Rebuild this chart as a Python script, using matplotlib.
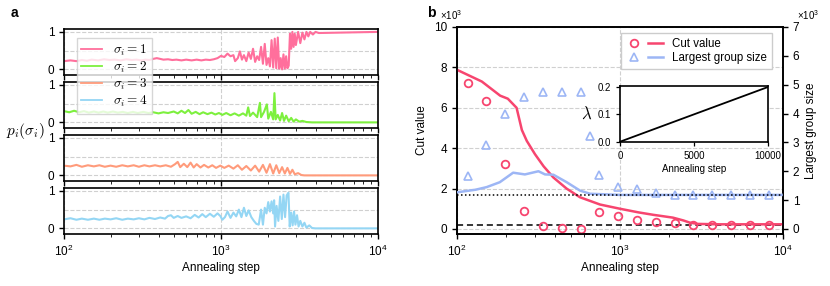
import numpy as np
import matplotlib
matplotlib.use("Agg")
import matplotlib.pyplot as plt
from matplotlib.ticker import FixedLocator, NullFormatter
from matplotlib.lines import Line2D
from matplotlib.legend_handler import HandlerTuple

plt.rcParams['font.family'] = ['Liberation Sans', 'DejaVu Sans']
plt.rcParams['mathtext.fontset'] = 'cm'

# ---------------- data: panel a ----------------
s1_steps = [100, 110, 120, 130, 140, 150, 165, 180, 195, 210,
            230, 250, 270, 290, 310, 330, 350, 370, 390, 410,
            430, 460, 490, 520, 560, 600, 650, 700, 750, 800,
            850, 900, 950, 1000, 1050, 1100, 1150, 1200, 1230, 1280,
            1320, 1360, 1400, 1450, 1500, 1550, 1600, 1650, 1700, 1750,
            1800, 1850, 1900, 1950, 2000, 2050, 2100, 2150, 2200, 2250,
            2300, 2350, 2400, 2450, 2500, 2550, 2600, 2650, 2700, 2750,
            2800, 2850, 2900, 2950, 3000, 3100, 3200, 3300, 3400, 3500,
            3600, 3700, 3850, 4000, 4200, 10000]
s1_vals = [0.22, 0.24, 0.22, 0.25, 0.23, 0.26, 0.24, 0.27, 0.25, 0.26,
           0.24, 0.27, 0.25, 0.26, 0.24, 0.26, 0.25, 0.28, 0.30, 0.28,
           0.26, 0.27, 0.25, 0.26, 0.24, 0.26, 0.24, 0.26, 0.24, 0.26,
           0.25, 0.27, 0.30, 0.36, 0.33, 0.42, 0.35, 0.38, 0.22, 0.30,
           0.48, 0.26, 0.38, 0.22, 0.45, 0.28, 0.55, 0.20, 0.35, 0.25,
           0.60, 0.15, 0.68, 0.12, 0.30, 0.08, 0.78, 0.05, 0.82, 0.03,
           0.85, 0.02, 0.30, 0.00, 0.40, 0.02, 0.35, 0.03, 0.10, 0.95,
           0.55, 1.00, 0.60, 0.95, 0.65, 1.00, 0.70, 0.98, 0.80, 1.00,
           0.88, 1.00, 0.93, 1.00, 0.97, 1.00]

s2_steps = [100, 108, 116, 125, 134, 144, 155, 166, 178, 190, 205, 220, 237, 255, 275, 295, 320, 345, 370, 400,
            430, 460, 500, 530, 560, 590, 620, 650, 690, 730, 770, 820, 870, 920, 970, 1020, 1080, 1150, 1220,
            1300, 1380, 1450, 1490, 1530, 1600, 1700, 1770, 1800, 1880, 1960, 2000, 2080, 2150, 2190, 2230, 2300,
            2380, 2450, 2520, 2600, 2700, 2800, 2900, 3000, 3150, 3300, 3500, 3800, 10000]
s2_vals = [0.30, 0.27, 0.31, 0.27, 0.30, 0.26, 0.29, 0.26, 0.29, 0.26, 0.29, 0.26, 0.28, 0.25, 0.28, 0.25, 0.28,
           0.25, 0.27, 0.24, 0.27, 0.25, 0.29, 0.24, 0.31, 0.25, 0.33, 0.23, 0.28, 0.22, 0.27, 0.22, 0.26, 0.21,
           0.25, 0.20, 0.25, 0.19, 0.24, 0.18, 0.24, 0.18, 0.40, 0.17, 0.26, 0.14, 0.52, 0.14, 0.28, 0.48, 0.10,
           0.28, 0.08, 0.78, 0.08, 0.20, 0.05, 0.25, 0.04, 0.18, 0.03, 0.12, 0.02, 0.08, 0.02, 0.04, 0.01, 0.00,
           0.00]

s3_steps = [100, 110, 120, 130, 142, 155, 168, 182, 198, 215, 235, 255, 278, 300, 325, 350, 380, 410, 445, 480,
            510, 530, 550, 580, 610, 640, 670, 700, 740, 780, 830, 880, 930, 990, 1050, 1120, 1200, 1280, 1360,
            1450, 1550, 1650, 1750, 1850, 1950, 2050, 2150, 2250, 2350, 2450, 2550, 2650, 2750, 2850, 2950, 3100,
            3250, 3400, 10000]
s3_vals = [0.26, 0.24, 0.28, 0.23, 0.27, 0.24, 0.27, 0.23, 0.26, 0.23, 0.27, 0.24, 0.27, 0.23, 0.27, 0.24, 0.27,
           0.24, 0.27, 0.23, 0.30, 0.36, 0.22, 0.31, 0.22, 0.34, 0.21, 0.30, 0.21, 0.28, 0.21, 0.27, 0.20, 0.26,
           0.20, 0.26, 0.18, 0.27, 0.15, 0.25, 0.13, 0.26, 0.10, 0.28, 0.07, 0.30, 0.05, 0.27, 0.06, 0.22, 0.05,
           0.20, 0.04, 0.15, 0.03, 0.06, 0.01, 0.00, 0.00]

s4_steps = [100, 110, 120, 130, 142, 155, 168, 182, 198, 215, 235, 255, 278, 300, 325, 350, 380, 410, 440, 460,
            480, 500, 530, 560, 600, 640, 680, 720, 760, 800, 850, 900, 950, 990, 1020, 1060, 1100, 1150, 1200,
            1250, 1300, 1350, 1400, 1450, 1500, 1560, 1620, 1680, 1740, 1800, 1850, 1900, 1950, 2000, 2050, 2100,
            2150, 2180, 2210, 2260, 2320, 2380, 2440, 2500, 2560, 2620, 2690, 2740, 2800, 2860, 2920, 2980, 3050,
            3120, 3200, 3300, 3400, 3500, 3650, 3800, 4000, 10000]
s4_vals = [0.24, 0.27, 0.23, 0.26, 0.23, 0.26, 0.23, 0.26, 0.24, 0.27, 0.23, 0.26, 0.24, 0.27, 0.24, 0.28, 0.25,
           0.29, 0.26, 0.33, 0.35, 0.28, 0.33, 0.28, 0.32, 0.27, 0.36, 0.29, 0.38, 0.30, 0.39, 0.31, 0.40, 0.33,
           0.23, 0.30, 0.45, 0.28, 0.42, 0.32, 0.50, 0.30, 0.55, 0.33, 0.48, 0.30, 0.20, 0.12, 0.10, 0.50, 0.10,
           0.55, 0.40, 0.70, 0.45, 0.72, 0.40, 0.75, 0.05, 0.60, 0.20, 0.85, 0.25, 0.90, 0.30, 0.88, 0.95, 0.05,
           0.42, 0.08, 0.45, 0.10, 0.35, 0.05, 0.20, 0.05, 0.15, 0.02, 0.08, 0.01, 0.00, 0.00]

sigma_labels = [r'$\sigma_i = 1$', r'$\sigma_i = 2$', r'$\sigma_i = 3$', r'$\sigma_i = 4$']
sigma_colors = ['#FF6F9C', '#7DF03E', '#FF9B7B', '#94D6F4']

# ---------------- data: panel b ----------------
pt_steps = [116, 151, 197, 257, 336, 439, 574, 747, 972, 1271, 1655, 2167, 2818, 3684, 4797, 6278, 8167]
cut_pts = [7.24, 6.32, 3.21, 0.87, 0.13, 0.05, 0.00, 0.82, 0.64, 0.46, 0.36, 0.28, 0.20, 0.20, 0.20, 0.20, 0.20]
grp_steps = [116, 151, 197, 257, 336, 439, 574, 658, 747, 972, 1271, 1655, 2167, 2818, 3684, 4797, 6278, 8167]
grp_pts = [1.83, 2.90, 4.00, 4.57, 4.75, 4.75, 4.75, 3.21, 1.88, 1.45, 1.38, 1.26, 1.17, 1.17, 1.17, 1.17, 1.17,
           1.17]

cut_line_steps = [100, 142, 184, 205, 232, 250, 268, 301, 340, 390, 470, 568, 754, 1000, 1300, 1600, 2113, 2450,
                  2687, 3000, 4103, 10000]
cut_line_vals = [7.88, 7.30, 6.60, 6.45, 6.00, 4.90, 4.36, 3.70, 3.10, 2.55, 2.00, 1.57, 1.21, 1.00, 0.82, 0.70,
                 0.56, 0.42, 0.31, 0.25, 0.23, 0.23]
grp_line_steps = [100, 130, 152, 183, 221, 261, 316, 347, 390, 471, 568, 655, 1000, 10000]
grp_line_vals = [1.27, 1.36, 1.45, 1.62, 1.95, 1.89, 2.00, 1.89, 1.88, 1.62, 1.33, 1.22, 1.18, 1.18]

ref_cut = 0.22      # dashed, left axis
ref_group = 1.16    # dotted, right axis

lam_steps = [0, 10000]
lam_vals = [0.0, 0.2]

# ---------------- figure ----------------
fig = plt.figure(figsize=(8.3, 2.86), dpi=100)

grid_kw = dict(color='#D0D0D0', linestyle='--', linewidth=0.8)
series = [(s1_steps, s1_vals), (s2_steps, s2_vals), (s3_steps, s3_vals), (s4_steps, s4_vals)]
bottoms = [0.7377, 0.5524, 0.3671, 0.1818]
axes_a = []
for k, ((st, va), b) in enumerate(zip(series, bottoms)):
    ax = fig.add_axes([0.0771, b, 0.3783, 0.1626])
    ax.plot(st, va, color=sigma_colors[k], linewidth=1.5, label=sigma_labels[k])
    ax.set_xscale('log')
    ax.set_xlim(100, 10000)
    ax.set_ylim(-0.15, 1.09)
    ax.set_yticks([0, 1])
    ax.yaxis.set_minor_locator(FixedLocator([0.5]))
    ax.tick_params(axis='y', which='minor', length=0)
    ax.yaxis.grid(True, which='both', **grid_kw)
    ax.xaxis.grid(True, which='major', **grid_kw)
    ax.set_axisbelow(True)
    ax.tick_params(labelsize=8.5, width=1.0)
    for sp in ax.spines.values():
        sp.set_linewidth(1.2)
    if k < 3:
        ax.xaxis.set_major_formatter(NullFormatter())
        ax.xaxis.set_minor_formatter(NullFormatter())
    axes_a.append(ax)
axes_a[-1].set_xlabel('Annealing step', fontsize=8.5, labelpad=2)

handles = [Line2D([], [], color=c, linewidth=1.3) for c in sigma_colors]
leg = axes_a[0].legend(handles, sigma_labels, loc='upper left',
                       bbox_to_anchor=(76.7 / 830, 1 - 37.7 / 286), bbox_transform=fig.transFigure,
                       borderaxespad=0, fontsize=9.5, handlelength=1.6, borderpad=0.35, labelspacing=0.15,
                       framealpha=0.8, fancybox=False, edgecolor='#CCCCCC')
axes_a[0].set_zorder(5)
fig.text(25 / 830, 1 - 131 / 286, r'$p_i(\sigma_i)$', fontsize=11, ha='center', va='center')
fig.text(14 / 830, 1 - 13 / 286, 'a', fontsize=10, fontweight='bold', ha='center', va='center')

# panel b
red = '#F7456F'
blue = '#9DB6F5'
axb = fig.add_axes([0.5506, 0.1818, 0.3928, 0.7238])
axb.set_xscale('log')
axb.set_xlim(100, 10000)
axb.set_ylim(-0.25, 10)
axb.set_yticks([0, 2, 4, 6, 8, 10])
axb.yaxis.grid(True, **grid_kw)
axb.xaxis.grid(True, which='major', **grid_kw)
axb.set_axisbelow(True)
axb.plot(cut_line_steps, cut_line_vals, color=red, linewidth=1.8, zorder=4)
axb.plot(pt_steps, cut_pts, linestyle='none', marker='o', markersize=5.5, markerfacecolor='none',
         markeredgecolor=red, markeredgewidth=1.3, zorder=4)
axb.axhline(ref_cut, color='black', linestyle=(0, (4, 2.5)), linewidth=1.1, zorder=3)
axb.set_ylabel('Cut value', fontsize=8.5, labelpad=4)
axb.set_xlabel('Annealing step', fontsize=8.5, labelpad=2)
axb.tick_params(labelsize=8.5, width=1.0)

axr = axb.twinx()
axr.set_ylim(-0.175, 7)
axr.set_yticks([0, 1, 2, 3, 4, 5, 6, 7])
axr.plot(grp_line_steps, grp_line_vals, color=blue, linewidth=1.8, zorder=3)
axr.plot(grp_steps, grp_pts, linestyle='none', marker='^', markersize=5.5, markerfacecolor='none',
         markeredgecolor=blue, markeredgewidth=1.2, zorder=3)
axr.axhline(ref_group, color='black', linestyle=(0, (1, 1.6)), linewidth=1.1, zorder=3)
axr.set_ylabel('Largest group size', fontsize=8.5, labelpad=4)
axr.tick_params(labelsize=8.5, width=1.0)
for a in (axb, axr):
    for sp in a.spines.values():
        sp.set_linewidth(1.2)

fig.text(451 / 830, 1 - 15 / 286, r'$\mathdefault{\times 10^{3}}$', fontsize=7, ha='center', va='center')
fig.text(808 / 830, 1 - 15 / 286, r'$\mathdefault{\times 10^{3}}$', fontsize=7, ha='center', va='center')
fig.text(431 / 830, 1 - 13 / 286, 'b', fontsize=10, fontweight='bold', ha='center', va='center')

h_cut = (Line2D([], [], linestyle='none', marker='o', markersize=5.5, markerfacecolor='none',
                markeredgecolor=red, markeredgewidth=1.3),
         Line2D([], [], color=red, linewidth=1.8))
h_grp = (Line2D([], [], linestyle='none', marker='^', markersize=5.5, markerfacecolor='none',
                markeredgecolor=blue, markeredgewidth=1.2),
         Line2D([], [], color=blue, linewidth=1.8))
axr.legend([h_cut, h_grp], ['Cut value', 'Largest group size'], loc='upper right',
           bbox_to_anchor=(771.7 / 830, 1 - 33.3 / 286), bbox_transform=fig.transFigure, borderaxespad=0,
           handler_map={tuple: HandlerTuple(ndivide=None, pad=0.6)}, fontsize=8.3, handlelength=3.2,
           borderpad=0.4, labelspacing=0.2, fancybox=False, edgecolor='#CCCCCC', framealpha=1.0)

# inset
axi = fig.add_axes([0.747, 0.5045, 0.178, 0.1958])
axi.set_zorder(10)
axi.plot(lam_steps, lam_vals, color='black', linewidth=1.3)
axi.set_xlim(0, 10000)
axi.set_ylim(0, 0.205)
axi.set_xticks([0, 5000, 10000])
axi.set_yticks([0, 0.1, 0.2])
axi.tick_params(labelsize=7, width=0.9, length=3)
axi.set_xlabel('Annealing step', fontsize=7, labelpad=2)
axi.set_ylabel(r'$\lambda$', fontsize=12, rotation=0, labelpad=8, va='center')
for sp in axi.spines.values():
    sp.set_linewidth(1.2)

fig.savefig('out.png', dpi=100)
